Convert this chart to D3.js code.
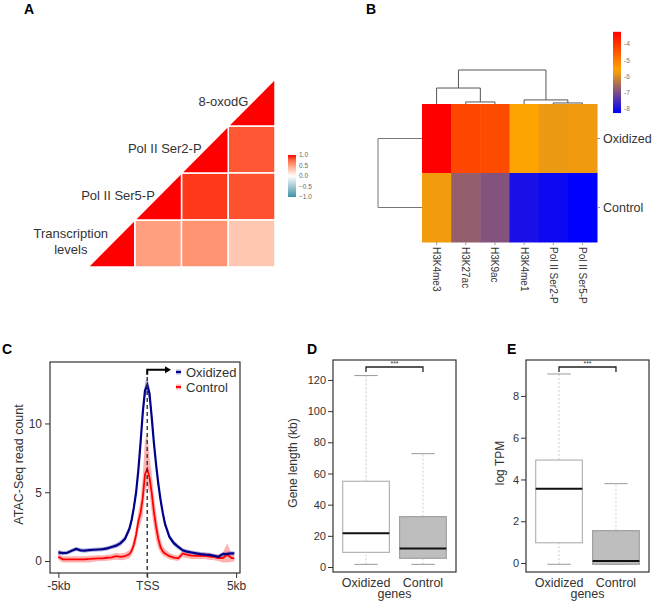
<!DOCTYPE html>
<html><head><meta charset="utf-8">
<script src="https://cdn.jsdelivr.net/npm/d3@7"></script>
<style>body{margin:0;background:#fff}svg{display:block}</style>
</head><body>
<svg id="fig" width="654" height="604"></svg>
<script>
// ================= DATA =================
// Panel A: correlation matrix
const corrVars = ["Transcription levels", "Pol II Ser5-P", "Pol II Ser2-P", "8-oxodG"];
const corrPairs = [
  ["Pol II Ser2-P", "8-oxodG", 0.82],
  ["Pol II Ser5-P", "Pol II Ser2-P", 0.92],
  ["Pol II Ser5-P", "8-oxodG", 0.84],
  ["Transcription levels", "Pol II Ser5-P", 0.5],
  ["Transcription levels", "Pol II Ser2-P", 0.56],
  ["Transcription levels", "8-oxodG", 0.3]
];
const corrLegendTicks = [1.0, 0.5, 0.0, -0.5, -1.0];

// Panel B: heatmap
const hmColumns = ["H3K4me3", "H3K27ac", "H3K9ac", "H3K4me1", "Pol II Ser2-P", "Pol II Ser5-P"];
const hmRows = ["Oxidized", "Control"];
const hmOxidized = [-3.25, -4.24, -4.32, -5.62, -5.8, -5.76];
const hmControl = [-5.74, -6.72, -6.9, -8.0, -8.12, -8.25];
const hmLegendTicks = [-4, -5, -6, -7, -8];
// column dendrogram merges: [left, right, height]; "m#" refers to an earlier merge
const colMerges = [
  ["Pol II Ser2-P", "Pol II Ser5-P", 0.3],
  ["H3K27ac", "H3K9ac", 0.6],
  ["H3K4me1", "m0", 1.2],
  ["H3K4me3", "m1", 4.7],
  ["m3", "m2", 10.0]
];

// Panel C: ATAC-seq profile
const profileKb = [-5, -4.75, -4.5, -4.25, -4, -3.75, -3.5, -3.25, -3, -2.75, -2.5, -2.25, -2, -1.75, -1.5, -1.25, -1, -0.875, -0.75, -0.625, -0.5, -0.375, -0.25, -0.125, 0, 0.125, 0.25, 0.375, 0.5, 0.625, 0.75, 0.875, 1, 1.25, 1.5, 1.75, 2, 2.25, 2.5, 2.75, 3, 3.25, 3.5, 3.75, 4, 4.25, 4.5, 4.75, 4.9];
const oxidizedMean = [0.63, 0.58, 0.6, 0.75, 0.88, 0.78, 0.76, 0.8, 0.82, 0.84, 0.86, 0.92, 1.02, 1.12, 1.3, 1.62, 2.35, 3.0, 3.9, 5.0, 6.6, 8.6, 10.8, 12.4, 12.8, 12.2, 10.5, 8.6, 7.0, 5.6, 4.45, 3.5, 2.7, 1.75, 1.3, 1.02, 0.78, 0.68, 0.62, 0.56, 0.5, 0.47, 0.45, 0.38, 0.3, 0.5, 0.52, 0.56, 0.55];
const oxidizedErr = [0.18, 0.15, 0.15, 0.15, 0.15, 0.15, 0.15, 0.15, 0.15, 0.15, 0.15, 0.15, 0.15, 0.18, 0.2, 0.2, 0.25, 0.25, 0.3, 0.3, 0.35, 0.4, 0.45, 0.55, 0.6, 0.5, 0.45, 0.4, 0.35, 0.3, 0.3, 0.25, 0.25, 0.2, 0.2, 0.18, 0.15, 0.15, 0.15, 0.15, 0.15, 0.15, 0.15, 0.15, 0.15, 0.15, 0.15, 0.15, 0.15];
const controlMean = [0.3, 0.12, 0.12, 0.12, 0.12, 0.12, 0.13, 0.15, 0.18, 0.2, 0.2, 0.24, 0.27, 0.36, 0.3, 0.35, 0.5, 0.75, 1.2, 1.9, 2.9, 3.5, 4.6, 6.3, 6.7, 6.1, 5.0, 3.6, 2.5, 1.6, 1.0, 0.7, 0.55, 0.35, 0.25, 0.2, 0.55, 0.45, 0.4, 0.38, 0.38, 0.4, 0.32, 0.3, 0.22, 0.22, 0.45, 0.22, 0.2];
const controlLower = [0.1, -0.1, -0.1, -0.1, -0.1, -0.1, -0.1, -0.1, -0.05, 0.0, 0.0, 0.02, 0.05, 0.1, 0.05, 0.1, 0.2, 0.4, 0.8, 1.3, 2.2, 2.7, 3.3, 5.0, 5.5, 5.0, 3.6, 2.4, 1.5, 0.9, 0.6, 0.4, 0.3, 0.12, 0.05, 0.0, 0.3, 0.2, 0.15, 0.15, 0.15, 0.15, 0.1, 0.05, 0.0, -0.1, -0.1, -0.05, -0.05];
const controlUpper = [0.55, 0.35, 0.35, 0.35, 0.35, 0.35, 0.35, 0.38, 0.4, 0.42, 0.42, 0.45, 0.5, 0.6, 0.55, 0.6, 0.8, 1.1, 1.7, 2.5, 3.6, 4.4, 6.2, 8.8, 9.3, 7.6, 6.4, 4.8, 3.5, 2.4, 1.6, 1.1, 0.85, 0.6, 0.45, 0.42, 0.8, 0.7, 0.65, 0.6, 0.6, 0.62, 0.55, 0.5, 0.45, 0.6, 1.3, 0.5, 0.45];
const profileTicks = [-5, 0, 5];
const profileTickLabels = ["-5kb", "TSS", "5kb"];
const profileYTicks = [0, 5, 10];
const profileSeries = ["Oxidized", "Control"];

// Panels D and E: box plot statistics [min, q1, median, q3, max]
const geneGroups = ["Oxidized", "Control"];
const geneLengthStats = [[1.7, 9.4, 21.6, 55, 122.8], [1.7, 5.6, 11.8, 32.3, 72.7]];
const geneLengthTicks = [0, 20, 40, 60, 80, 100, 120];
const logTpmStats = [[-0.06, 0.97, 3.56, 4.93, 9.05], [-0.06, -0.06, 0.1, 1.55, 3.8]];
const logTpmTicks = [0, 2, 4, 6, 8];

// ================= DRAWING =================
const FONT = '"Liberation Sans", Arial, Helvetica, sans-serif';
const TXT = "#333333";
const svg = d3.select("#fig").style("font-family", FONT);
const defs = svg.append("defs");

// panel letters
[["A", 24, 14], ["B", 366, 14], ["C", 2, 354], ["D", 307, 354], ["E", 507, 354]].forEach(([t, x, y]) => {
  svg.append("text").attr("x", x).attr("y", y).text(t)
    .attr("font-size", 14).attr("font-weight", "bold").attr("fill", "#000");
});

// ---------- Panel A ----------
(function () {
  const gA = svg.append("g");
  const x = d3.scaleBand().domain(corrVars).range([88, 275]);
  const y = d3.scaleBand().domain(corrVars.slice().reverse()).range([79, 267]);
  const bw = x.bandwidth(), bh = y.bandwidth();
  const col = d3.scaleLinear().domain([-1, 0, 1]).range(["#3A93A6", "#FFFFFF", "#FF0000"]).interpolate(d3.interpolateLab);

  gA.selectAll("rect.cell").data(corrPairs).join("rect")
    .attr("x", d => x(d[1])).attr("y", d => y(d[0]))
    .attr("width", bw).attr("height", bh)
    .attr("fill", d => col(d[2])).attr("stroke", "#fff").attr("stroke-width", 1.5);

  gA.selectAll("path.diag").data(corrVars).join("path")
    .attr("d", v => {
      const x0 = x(v), y0 = y(v);
      return `M${x0},${y0 + bh}L${x0 + bw},${y0}L${x0 + bw},${y0 + bh}Z`;
    })
    .attr("fill", col(1)).attr("stroke", "#fff").attr("stroke-width", 1.5);

  corrVars.forEach(v => {
    const words = v === "Transcription levels" ? ["Transcription", "levels"] : [v];
    const cy = y(v) + bh / 2;
    const endX = x(v) + bw * 0.43;
    if (words.length === 1) {
      gA.append("text").attr("x", endX).attr("y", cy - 1).attr("dy", "0.35em")
        .attr("text-anchor", "end").attr("font-size", 13).attr("fill", TXT).text(v);
    } else {
      const t = gA.append("text").attr("text-anchor", "middle").attr("font-size", 13).attr("fill", TXT);
      const s1 = t.append("tspan").attr("y", cy - 6).text(words[0]);
      const s2 = t.append("tspan").attr("y", cy + 10.5).text(words[1]);
      const w = s1.node().getComputedTextLength();
      s1.attr("x", endX - w / 2); s2.attr("x", endX - w / 2);
    }
  });

  // legend
  const grad = defs.append("linearGradient").attr("id", "gA").attr("x1", 0).attr("x2", 0).attr("y1", 0).attr("y2", 1);
  d3.range(0, 1.001, 0.1).forEach(t => grad.append("stop").attr("offset", t).attr("stop-color", col(1 - 2 * t)));
  const ly = d3.scaleLinear().domain([1, -1]).range([155, 197]);
  gA.append("rect").attr("x", 288).attr("y", ly(1)).attr("width", 8).attr("height", ly(-1) - ly(1)).attr("fill", "url(#gA)");
  gA.selectAll("text.lg").data(corrLegendTicks).join("text")
    .attr("x", 299).attr("y", d => ly(d)).attr("dy", "0.35em")
    .attr("font-size", 6.5).attr("fill", "#666").text(d => d3.format(".1f")(d));
})();

// ---------- Panel B ----------
(function () {
  const gB = svg.append("g");
  const x = d3.scaleBand().domain(hmColumns).range([422, 597]);
  const y = d3.scaleBand().domain(hmRows).range([104, 242]);
  const col = d3.scaleLinear().domain([-8.25, -5.6, -3.25]).range(["#0000FF", "#FFA500", "#FF0000"]);
  const cells = [];
  hmColumns.forEach((c, i) => {
    cells.push({ r: "Oxidized", c, v: hmOxidized[i] });
    cells.push({ r: "Control", c, v: hmControl[i] });
  });
  gB.selectAll("rect").data(cells).join("rect")
    .attr("x", d => x(d.c)).attr("y", d => y(d.r))
    .attr("width", x.bandwidth() + 0.5).attr("height", y.bandwidth() + 0.5)
    .attr("fill", d => col(d.v));

  // column dendrogram
  const hy = d3.scaleLinear().domain([0, 10]).range([104, 70]);
  const nodes = {};
  hmColumns.forEach(c => nodes[c] = { x: x(c) + x.bandwidth() / 2, y: 104 });
  const dg = gB.append("g").attr("stroke", "#555").attr("stroke-width", 1).attr("fill", "none");
  colMerges.forEach((m, i) => {
    const a = nodes[m[0]], b = nodes[m[1]], yy = hy(m[2]);
    dg.append("path").attr("d", `M${a.x},${a.y}V${yy}H${b.x}V${b.y}`);
    nodes["m" + i] = { x: (a.x + b.x) / 2, y: yy };
  });
  // row dendrogram
  const r1 = y("Oxidized") + y.bandwidth() / 2, r2 = y("Control") + y.bandwidth() / 2;
  gB.append("path").attr("d", `M422,${r1}H378V${r2}H422`).attr("stroke", "#777").attr("fill", "none");

  // row labels
  hmRows.forEach(r => {
    const cy = y(r) + y.bandwidth() / 2;
    gB.append("line").attr("x1", 597).attr("x2", 600).attr("y1", cy).attr("y2", cy).attr("stroke", "#999");
    gB.append("text").attr("x", 603).attr("y", cy).attr("dy", "0.35em")
      .attr("font-size", 12.5).attr("fill", TXT).text(r);
  });
  // column labels
  hmColumns.forEach(c => {
    const cx = x(c) + x.bandwidth() / 2;
    gB.append("line").attr("x1", cx).attr("x2", cx).attr("y1", 242).attr("y2", 245).attr("stroke", "#999");
    gB.append("text").attr("transform", `translate(${cx},247) rotate(90)`).attr("dy", "0.35em")
      .attr("font-size", 10).attr("fill", TXT).text(c);
  });
  // legend
  const ly = d3.scaleLinear().domain([-4, -8]).range([44, 109]);
  const grad = defs.append("linearGradient").attr("id", "gB").attr("x1", 0).attr("x2", 0).attr("y1", 0).attr("y2", 1);
  d3.range(0, 1.001, 0.05).forEach(t => grad.append("stop").attr("offset", t).attr("stop-color", col(-3.25 - 5 * t)));
  gB.append("rect").attr("x", 613).attr("y", ly(-3.25)).attr("width", 8).attr("height", ly(-8.25) - ly(-3.25)).attr("fill", "url(#gB)");
  gB.selectAll("text.lg").data(hmLegendTicks).join("text")
    .attr("x", 624).attr("y", d => ly(d)).attr("dy", "0.35em")
    .attr("font-size", 6.5).attr("fill", "#777").text(d => d);
})();

// ---------- Panel C ----------
(function () {
  const gC = svg.append("g");
  const L = 50, R = 240, T = 362, B = 573;
  const x = d3.scaleLinear().domain([-5.47, 5.22]).range([L, R]);
  const y = d3.scaleLinear().domain([-0.87, 14.47]).range([B, T]);
  const pts = profileKb.map((k, i) => ({ k, om: oxidizedMean[i], oe: oxidizedErr[i], cm: controlMean[i], cl: controlLower[i], cu: controlUpper[i] }));

  gC.append("path").datum(pts).attr("fill", "#FF0000").attr("fill-opacity", 0.3)
    .attr("d", d3.area().x(d => x(d.k)).y0(d => y(d.cl)).y1(d => y(d.cu)));
  gC.append("path").datum(pts).attr("fill", "#00008B").attr("fill-opacity", 0.3)
    .attr("d", d3.area().x(d => x(d.k)).y0(d => y(d.om - d.oe)).y1(d => y(d.om + d.oe)));
  gC.append("path").datum(pts).attr("fill", "none").attr("stroke", "#FF0000").attr("stroke-width", 1.8)
    .attr("d", d3.line().x(d => x(d.k)).y(d => y(d.cm)));
  gC.append("path").datum(pts).attr("fill", "none").attr("stroke", "#00008B").attr("stroke-width", 2.2)
    .attr("d", d3.line().x(d => x(d.k)).y(d => y(d.om)));

  // TSS dashed line + arrow
  const tx = x(0), ty = y(13.9);
  gC.append("line").attr("x1", tx).attr("x2", tx).attr("y1", B + 4).attr("y2", ty + 4)
    .attr("stroke", "#333").attr("stroke-width", 1.4).attr("stroke-dasharray", "4,3");
  gC.append("path").attr("d", `M${tx},${ty + 5}V${ty}H${x(1.0)}`).attr("stroke", "#000").attr("stroke-width", 2).attr("fill", "none");
  gC.append("path").attr("d", `M${x(1.0)},${ty - 3.5}L${x(1.0) + 6},${ty}L${x(1.0)},${ty + 3.5}Z`).attr("fill", "#000");

  // frame and axes
  gC.append("rect").attr("x", L).attr("y", T).attr("width", R - L).attr("height", B - T)
    .attr("fill", "none").attr("stroke", "#333").attr("stroke-width", 1.2);
  const ax = gC.append("g").attr("transform", `translate(0,${B})`)
    .call(d3.axisBottom(x).tickValues(profileTicks).tickFormat((d, i) => profileTickLabels[i]).tickSize(5).tickPadding(3));
  const ay = gC.append("g").attr("transform", `translate(${L},0)`)
    .call(d3.axisLeft(y).tickValues(profileYTicks).tickSize(5).tickPadding(3));
  [ax, ay].forEach(a => {
    a.select(".domain").remove();
    a.selectAll("line").attr("stroke", "#333");
    a.selectAll("text").attr("font-size", 12).attr("fill", TXT).style("font-family", FONT);
  });
  gC.append("text").attr("transform", `translate(23,${(T + B) / 2 - 3}) rotate(-90)`)
    .attr("text-anchor", "middle").attr("font-size", 12.5).attr("fill", TXT).text("ATAC-Seq read count");

  // legend
  const lcol = [["#00008B", 0.3], ["#FF0000", 0.3]];
  profileSeries.forEach((s, i) => {
    const cy = 372 + i * 15;
    gC.append("rect").attr("x", 176).attr("y", cy - 2.5).attr("width", 5).attr("height", 5)
      .attr("fill", lcol[i][0]).attr("fill-opacity", lcol[i][1]);
    gC.append("line").attr("x1", 176).attr("x2", 181).attr("y1", cy).attr("y2", cy)
      .attr("stroke", lcol[i][0]).attr("stroke-width", 2);
    gC.append("text").attr("x", 186).attr("y", cy).attr("dy", "0.36em")
      .attr("font-size", 13).attr("fill", TXT).text(s);
  });
})();

// ---------- Panels D & E ----------
function boxPanel(L, R, T, B, dom, stats, ticks, title, titleX) {
  const g = svg.append("g");
  const x = d3.scaleLinear().domain([0.42, 2.58]).range([L, R]);
  const y = d3.scaleLinear().domain(dom).range([B, T]);
  const half = (x(1.41) - x(1)), cap = half / 2;
  const fills = ["#FFFFFF", "#BEBEBE"], strokes = ["#B4B4B4", "#A0A0A0"];
  stats.forEach((s, i) => {
    const cx = x(i + 1);
    g.append("line").attr("x1", cx).attr("x2", cx).attr("y1", y(s[0])).attr("y2", y(s[1]))
      .attr("stroke", "#CCC").attr("stroke-dasharray", "2,2");
    g.append("line").attr("x1", cx).attr("x2", cx).attr("y1", y(s[3])).attr("y2", y(s[4]))
      .attr("stroke", "#CCC").attr("stroke-dasharray", "2,2");
    [s[0], s[4]].forEach(v => g.append("line").attr("x1", cx - cap).attr("x2", cx + cap)
      .attr("y1", y(v)).attr("y2", y(v)).attr("stroke", "#9A9A9A"));
    g.append("rect").attr("x", cx - half).attr("y", y(s[3])).attr("width", 2 * half)
      .attr("height", y(s[1]) - y(s[3])).attr("fill", fills[i]).attr("stroke", strokes[i]).attr("stroke-width", 1.2);
    g.append("line").attr("x1", cx - half).attr("x2", cx + half).attr("y1", y(s[2])).attr("y2", y(s[2]))
      .attr("stroke", "#111").attr("stroke-width", 2);
    g.append("text").attr("x", cx).attr("y", 587).attr("text-anchor", "middle")
      .attr("font-size", 12.5).attr("fill", TXT).text(geneGroups[i]);
  });
  g.append("text").attr("x", x(1.5)).attr("y", 598).attr("text-anchor", "middle")
    .attr("font-size", 12.5).attr("fill", TXT).text("genes");
  // significance bracket
  const by = T + 7;
  g.append("path").attr("d", `M${x(1)},${by + 5}V${by}H${x(2)}V${by + 5}`)
    .attr("fill", "none").attr("stroke", "#222").attr("stroke-width", 1.3);
  g.append("text").attr("x", x(1.5)).attr("y", by - 1).attr("text-anchor", "middle")
    .attr("font-size", 7).attr("fill", "#333").text("***");
  // frame + axis
  g.append("rect").attr("x", L).attr("y", T).attr("width", R - L).attr("height", B - T)
    .attr("fill", "none").attr("stroke", "#333").attr("stroke-width", 1.2);
  const ay = g.append("g").attr("transform", `translate(${L},0)`)
    .call(d3.axisLeft(y).tickValues(ticks).tickSize(5).tickPadding(2));
  ay.select(".domain").remove();
  ay.selectAll("line").attr("stroke", "#333");
  ay.selectAll("text").attr("font-size", 11).attr("fill", TXT).style("font-family", FONT);
  g.append("text").attr("transform", `translate(${titleX},${(T + B) / 2 - 3}) rotate(-90)`)
    .attr("text-anchor", "middle").attr("font-size", 12).attr("fill", TXT).text(title);
}
boxPanel(333, 456, 360, 572, [-3.2, 132.8], geneLengthStats, geneLengthTicks, "Gene length (kb)", 297);
boxPanel(526, 649, 360, 572, [-0.43, 9.72], logTpmStats, logTpmTicks, "log TPM", 504);
</script>
</body></html>
